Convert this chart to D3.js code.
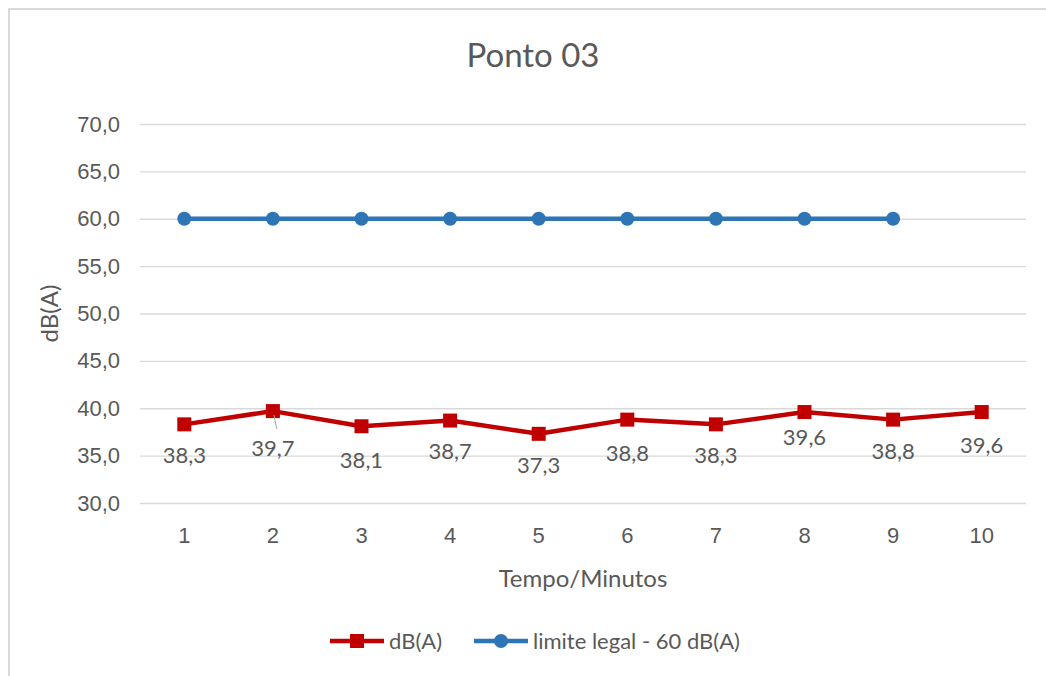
<!DOCTYPE html>
<html>
<head>
<meta charset="utf-8">
<script src="https://cdn.jsdelivr.net/npm/d3@7"></script>
<style>
  body { margin: 0; background: #fff; }
  svg { display: block; font-family: Lato, "Open Sans", sans-serif; }
</style>
</head>
<body>
<svg id="chart" width="1046" height="676"></svg>
<script>
// chart values
const minutes = ["1", "2", "3", "4", "5", "6", "7", "8", "9", "10"];
const dbValues = [38.3, 39.7, 38.1, 38.7, 37.3, 38.8, 38.3, 39.6, 38.8, 39.6];
const limitValues = [60, 60, 60, 60, 60, 60, 60, 60, 60];
const yTicks = [30, 35, 40, 45, 50, 55, 60, 65, 70];

const svg = d3.select("#chart");
const W = 1046, H = 676;
const textColor = "#595959";
const red = "#c00000", blue = "#2e75b6";

// outer border (chart is cropped on right/bottom)
svg.append("path")
    .attr("d", `M9,${H} V9 H${W}`)
    .attr("fill", "none")
    .attr("stroke", "#d9d9d9")
    .attr("stroke-width", 2);

const margin = {left: 140, right: 20, top: 124, bottom: 173};
const x = d3.scaleBand().domain(minutes).range([margin.left, W - margin.right]);
const y = d3.scaleLinear().domain([30, 70]).range([H - margin.bottom, margin.top]);
const cx = d => x(d) + x.bandwidth() / 2;

// title
svg.append("text")
    .attr("x", 533).attr("y", 67)
    .attr("text-anchor", "middle")
    .attr("fill", textColor)
    .style("font-size", "33px")
    .text("Ponto 03");

// gridlines + y labels
const yAxis = svg.append("g")
    .attr("transform", `translate(${margin.left},0)`)
    .call(d3.axisLeft(y).tickValues(yTicks).tickSize(-(W - margin.right - margin.left))
        .tickFormat(d => d3.format(".1f")(d).replace(".", ",")));
yAxis.select(".domain").remove();
yAxis.selectAll(".tick line").attr("stroke", "#d9d9d9").attr("stroke-width", 1.3);
yAxis.selectAll(".tick text").attr("x", -20).attr("fill", textColor).style("font-size", "22px");

// x labels
const xAxis = svg.append("g")
    .attr("transform", `translate(0,${y(30)})`)
    .call(d3.axisBottom(x).tickSize(0).tickPadding(24));
xAxis.select(".domain").remove();
xAxis.selectAll(".tick text").attr("fill", textColor).style("font-size", "22px");

// axis titles
svg.append("text")
    .attr("transform", `translate(58,${(y(30) + y(70)) / 2}) rotate(-90)`)
    .attr("text-anchor", "middle")
    .attr("fill", textColor)
    .style("font-size", "24px")
    .text("dB(A)");

svg.append("text")
    .attr("x", (margin.left + W - margin.right) / 2) .attr("y", 587)
    .attr("text-anchor", "middle")
    .attr("fill", textColor)
    .style("font-size", "24px")
    .text("Tempo/Minutos");

const line = d3.line();

// limit series
const limitPts = limitValues.map((v, i) => [cx(minutes[i]), y(v)]);
svg.append("path")
    .attr("d", line(limitPts))
    .attr("fill", "none").attr("stroke", blue).attr("stroke-width", 4.5)
    .attr("stroke-linejoin", "round");
svg.append("g").selectAll("circle")
    .data(limitPts)
    .join("circle")
    .attr("cx", d => d[0]).attr("cy", d => d[1]).attr("r", 7)
    .attr("fill", blue);

// dB series
const dbPts = dbValues.map((v, i) => [cx(minutes[i]), y(v)]);
svg.append("path")
    .attr("d", line(dbPts))
    .attr("fill", "none").attr("stroke", red).attr("stroke-width", 4.5)
    .attr("stroke-linejoin", "round");
svg.append("g").selectAll("rect")
    .data(dbPts)
    .join("rect")
    .attr("x", d => d[0] - 7).attr("y", d => d[1] - 7)
    .attr("width", 14).attr("height", 14)
    .attr("fill", red);

// leader line for the moved label at minute 2
svg.append("line")
    .attr("x1", cx("2") + 1).attr("y1", y(dbValues[1]) + 4)
    .attr("x2", cx("2") + 4).attr("y2", y(dbValues[1]) + 18)
    .attr("stroke", "#a6a6a6").attr("stroke-width", 1);

// data labels below points
const labelShift = [0, 6, 3, -1, 0, 2, 0, -6, 0, 2];
svg.append("g").selectAll("text")
    .data(dbValues)
    .join("text")
    .attr("x", (d, i) => cx(minutes[i]))
    .attr("y", (d, i) => y(d) + 39 + labelShift[i])
    .attr("text-anchor", "middle")
    .attr("fill", textColor)
    .style("font-size", "22px")
    .text(d => d3.format(".1f")(d).replace(".", ","));

// legend
const legend = svg.append("g").attr("transform", "translate(0,641)");
const items = [
    {label: "dB(A)", color: red, shape: "square", x: 330},
    {label: "limite legal - 60 dB(A)", color: blue, shape: "circle", x: 474}
];
items.forEach(it => {
    const g = legend.append("g").attr("transform", `translate(${it.x},0)`);
    g.append("line").attr("x1", 0).attr("x2", 54).attr("stroke", it.color).attr("stroke-width", 4.5);
    if (it.shape === "square") {
        g.append("rect").attr("x", 20).attr("y", -7).attr("width", 14).attr("height", 14).attr("fill", it.color);
    } else {
        g.append("circle").attr("cx", 27).attr("r", 7).attr("fill", it.color);
    }
    g.append("text").attr("x", 59).attr("dy", "0.35em")
        .attr("fill", textColor).style("font-size", "22px").text(it.label);
});
</script>
</body>
</html>
